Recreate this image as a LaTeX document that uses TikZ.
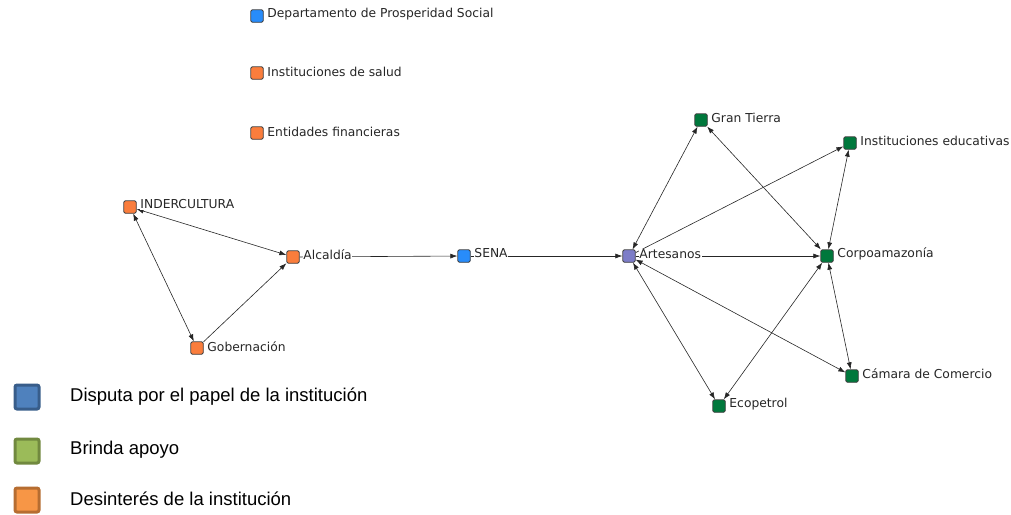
\documentclass[tikz,border=0pt]{standalone}
\usepackage{fontspec}
\setmainfont{DejaVu Sans}
\newfontfamily\legfont{Liberation Sans}
\usetikzlibrary{arrows.meta}
\pgfdeclarelayer{bg}
\pgfsetlayers{bg,main}
\definecolor{nblue}{RGB}{40,140,250}
\definecolor{norange}{RGB}{250,125,60}
\definecolor{ngreen}{RGB}{0,120,60}
\definecolor{npurple}{RGB}{125,125,200}
\definecolor{lblue}{RGB}{79,129,189}\definecolor{lblueb}{RGB}{56,93,138}
\definecolor{lgreen}{RGB}{155,187,89}\definecolor{lgreenb}{RGB}{113,137,63}
\definecolor{lorange}{RGB}{247,150,70}\definecolor{loranged}{RGB}{182,109,49}
\tikzset{
  nd/.style={rectangle, minimum size=12.5pt, inner sep=0pt, draw=black!75, line width=0.8pt, rounded corners=1.5pt},
  lbl/.style={anchor=west, inner sep=0.6pt, fill=white, font=\fontsize{12.3}{14}\selectfont, text=black!85},
  ed/.style={draw=black!85, line width=0.6pt},
  tip/.style={-{Latex[length=7pt,width=5pt]}},
  tips/.style={{Latex[length=7pt,width=5pt]}-{Latex[length=7pt,width=5pt]}},
  legsq/.style={rectangle, minimum size=24pt, inner sep=0pt, line width=3pt, rounded corners=2pt},
  legtxt/.style={anchor=west, inner sep=0pt, font=\legfont\fontsize{18.5}{20}\selectfont, text=black}
}
\begin{document}
\begin{tikzpicture}[x=1pt,y=-1pt]
\useasboundingbox (0,0) rectangle (1011,514);
% isolated nodes
\node[nd, fill=nblue] (dps) at (257,16) {};
\node[lbl] (dpsl) at ([xshift=3pt,yshift=1.5pt]dps.east) {Departamento de Prosperidad Social};
\node[nd, fill=norange] (sal) at (257,73) {};
\node[lbl] (sall) at ([xshift=3pt,yshift=1.5pt]sal.east) {Instituciones de salud};
\node[nd, fill=norange] (fin) at (257,133) {};
\node[lbl] (finl) at ([xshift=3pt,yshift=1.5pt]fin.east) {Entidades financieras};
% network nodes
\node[nd, fill=norange] (ind) at (130,207) {};
\node[nd, fill=norange] (alc) at (293,257) {};
\node[nd, fill=norange] (gob) at (197,348) {};
\node[nd, fill=nblue] (sena) at (464,256) {};
\node[nd, fill=npurple] (art) at (629,256) {};
\node[nd, fill=ngreen] (gt) at (701,120) {};
\node[nd, fill=ngreen] (ie) at (850,143) {};
\node[nd, fill=ngreen] (corp) at (827,256) {};
\node[nd, fill=ngreen] (cam) at (852,376) {};
\node[nd, fill=ngreen] (eco) at (719,406) {};
% edges
\begin{pgfonlayer}{bg}
\draw[ed,tips] (ind) -- (alc);
\draw[ed,tips] (ind) -- (gob);
\draw[ed,tip] (gob) -- (alc);
\draw[ed,tip] (alc) -- (sena);
\draw[ed,tip] (sena) -- (art);
\draw[ed,tips] (art) -- (gt);
\draw[ed,tip] (art) -- (ie);
\draw[ed,tip] (art) -- (corp);
\draw[ed,tips] (gt) -- (corp);
\draw[ed,tips] (ie) -- (corp);
\draw[ed,tips] (corp) -- (cam);
\draw[ed,tips] (art) -- (cam);
\draw[ed,tips] (art) -- (eco);
\draw[ed,tips] (eco) -- (corp);
\end{pgfonlayer}
% labels
\node[lbl] (indl) at ([xshift=3pt,yshift=2.5pt]ind.east) {INDERCULTURA};
\node[lbl] (alcl) at ([xshift=3pt,yshift=2.5pt]alc.east) {Alcaldía};
\node[lbl] (gobl) at ([xshift=3pt,yshift=1.5pt]gob.east) {Gobernación};
\node[lbl] (senal) at ([xshift=3pt,yshift=2.5pt]sena.east) {SENA};
\node[lbl] (artl) at ([xshift=3pt,yshift=2pt]art.east) {Artesanos};
\node[lbl] (gtl) at ([xshift=3pt,yshift=2.5pt]gt.east) {Gran Tierra};
\node[lbl] (iel) at ([xshift=3pt,yshift=2.5pt]ie.east) {Instituciones educativas};
\node[lbl] (corpl) at ([xshift=3pt,yshift=2pt]corp.east) {Corpoamazonía};
\node[lbl] (caml) at ([xshift=3pt,yshift=2.5pt]cam.east) {Cámara de Comercio};
\node[lbl] (ecol) at ([xshift=3pt,yshift=1.5pt]eco.east) {Ecopetrol};
% bottom legend
\node[legsq, fill=lblue, draw=lblueb] (lg1) at (27,397) {};
\node[legtxt] (lg1t) at (70,397) {Disputa por el papel de la institución};
\node[legsq, fill=lgreen, draw=lgreenb] (lg2) at (27,451) {};
\node[legtxt] (lg2t) at (70,450) {Brinda apoyo};
\node[legsq, fill=lorange, draw=loranged] (lg3) at (27,500) {};
\node[legtxt] (lg3t) at (70,499) {Desinterés de la institución};
\end{tikzpicture}
\end{document}
